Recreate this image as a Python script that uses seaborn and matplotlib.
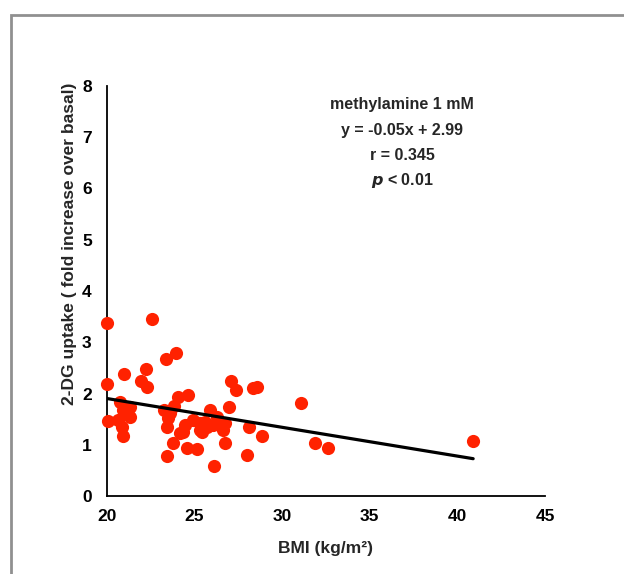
import matplotlib
matplotlib.use("Agg")
import matplotlib.pyplot as plt
import seaborn as sns
import pandas as pd
from matplotlib.patches import Rectangle

bmi = [20.0, 22.55, 23.94, 23.37, 20.97, 22.2, 21.92, 22.26, 20.0, 24.05,
       24.6, 20.74, 21.3, 20.93, 21.3, 23.27, 23.6, 23.8, 20.07, 20.65,
       20.84, 20.93, 23.44, 24.45, 24.17, 23.75, 24.55, 25.15, 23.4, 25.88,
       25.3, 25.7, 24.93, 26.1, 25.3, 27.08, 27.35, 28.54, 28.35, 31.1,
       26.96, 28.12, 28.86, 26.73, 27.97, 31.9, 32.63, 26.64, 40.9, 23.5,
       25.6, 26.07, 26.26, 26.73, 24.35, 25.4]
uptake = [3.37, 3.45, 2.80, 2.67, 2.38, 2.47, 2.24, 2.12, 2.19, 1.94,
          1.97, 1.84, 1.74, 1.68, 1.55, 1.68, 1.61, 1.76, 1.47, 1.48,
          1.35, 1.17, 1.34, 1.39, 1.22, 1.03, 0.93, 0.92, 0.79, 1.68,
          1.42, 1.35, 1.48, 0.59, 1.29, 2.24, 2.07, 2.13, 2.10, 1.82,
          1.74, 1.35, 1.17, 1.03, 0.80, 1.03, 0.94, 1.29, 1.08, 1.52,
          1.45, 1.39, 1.55, 1.42, 1.25, 1.25]
x_ticks = [20, 25, 30, 35, 40, 45]
y_ticks = [0, 1, 2, 3, 4, 5, 6, 7, 8]
annot_lines = ["methylamine 1 mM", "y = -0.05x + 2.99", "r = 0.345"]

df = pd.DataFrame({"BMI": bmi, "uptake": uptake})

sns.set_style("white")
plt.rcParams["font.family"] = ["Liberation Sans", "DejaVu Sans"]

fig = plt.figure(figsize=(6.24, 5.74), dpi=100)
ax = fig.add_axes([107/624, 1-496/574, 438/624, 410/574])

sns.regplot(data=df, x="BMI", y="uptake", ax=ax, ci=None, truncate=True,
            scatter_kws=dict(color="#ff2200", s=90, alpha=1, linewidths=0, zorder=3,
                             clip_on=False),
            line_kws=dict(color="black", lw=2.3, zorder=4))

ax.set_xlim(20, 45)
ax.set_ylim(0, 8)
ax.set_xticks(x_ticks)
ax.set_yticks(y_ticks)
ax.set_xticklabels([str(t) for t in x_ticks], fontsize=12.5, fontweight="bold")
ax.set_yticklabels([str(t) for t in y_ticks], fontsize=12.5, fontweight="bold")
for s in ["top", "right"]:
    ax.spines[s].set_visible(False)
for s in ["left", "bottom"]:
    ax.spines[s].set_color("black")
    ax.spines[s].set_linewidth(1.3)
ax.tick_params(axis="x", direction="inout", length=7, width=1, colors="black", pad=6)
ax.tick_params(axis="y", direction="out", length=5, width=1, colors="black", pad=6)
ax.tick_params(labelcolor="black")

ax.set_xlabel("BMI (kg/m\u00b2)", fontsize=12.5, fontweight="bold", labelpad=12)
ax.set_ylabel("2-DG uptake ( fold increase over basal)", fontsize=12.5, fontweight="bold")
ax.yaxis.set_label_coords(-0.068, 0.615)

tx = (402-107)/438
ys = [104, 131, 156]
for line, py in zip(annot_lines, ys):
    ax.text(tx, (496-py)/410, line, transform=ax.transAxes, ha="center", va="center",
            fontsize=11.5, fontweight="bold")
ax.text(tx, (496-180)/410, r"$\mathbfit{p}$" + " < 0.01", transform=ax.transAxes,
        ha="center", va="center", fontsize=11.5, fontweight="bold")

fig.patches.append(Rectangle((11/624, -0.05), 1.1, 1-15/574+0.05, transform=fig.transFigure,
                             fill=False, edgecolor="#909090", lw=2))

fig.savefig("out.png", dpi=100)
